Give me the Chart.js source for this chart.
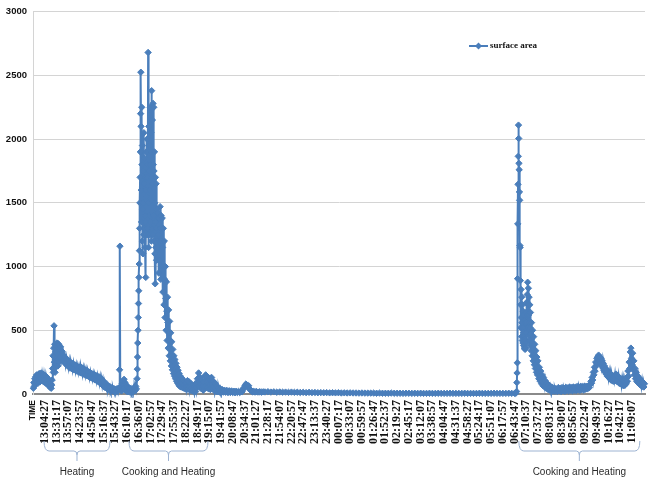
<!DOCTYPE html>
<html>
<head>
<meta charset="utf-8">
<script src="https://cdn.jsdelivr.net/npm/chart.js@4/dist/chart.umd.min.js"></script>
<style>
  html, body { margin: 0; padding: 0; background: #fff; }
  #wrap { width: 654px; height: 484px; }
</style>
</head>
<body>
<div id="wrap"><canvas id="chart" width="654" height="484"></canvas></div>
<script>
// category labels on the time axis (one every tick slot)
const tickLabels = [
  "TIME", "13:04:27", "13:31:17", "13:57:07", "14:23:57", "14:50:47", "15:16:37",
  "15:43:27", "16:10:17", "16:36:07", "17:02:57", "17:29:47", "17:55:37", "18:22:27",
  "18:49:17", "19:15:07", "19:41:57", "20:08:47", "20:34:37", "21:01:27", "21:28:17",
  "21:54:07", "22:20:57", "22:47:47", "23:13:37", "23:40:27", "00:07:17", "00:33:07",
  "00:59:57", "01:26:47", "01:52:37", "02:19:27", "02:45:17", "03:12:07", "03:38:57",
  "04:04:47", "04:31:37", "04:58:27", "05:24:17", "05:51:07", "06:17:57", "06:43:47",
  "07:10:37", "07:37:27", "08:03:17", "08:30:07", "08:56:57", "09:22:47", "09:49:37",
  "10:16:27", "10:42:17", "11:09:07"
];

// surface area readings, [slot position, value]
const morningHeating = [
  [0.03,45],[0.07,90],[0.11,60],[0.15,120],[0.19,75],[0.23,135],[0.27,90],[0.31,150],
  [0.35,100],[0.39,140],[0.43,85],[0.47,155],[0.51,110],[0.55,160],[0.59,95],[0.63,150],
  [0.67,120],[0.71,165],[0.75,105],[0.79,150],[0.83,125],[0.87,155],[0.91,95],[0.95,140],
  [0.99,110],[1.03,145],[1.07,85],[1.11,135],[1.15,100],[1.19,130],[1.23,75],[1.27,120],
  [1.31,90],[1.35,110],[1.39,60],[1.43,95],[1.47,50],[1.51,80],[1.55,45],[1.59,70],
  [1.63,110],[1.67,200],[1.7,300],[1.73,170],[1.76,360],[1.79,535],[1.82,250],[1.85,390],
  [1.88,170],[1.91,330],[1.94,210],[1.97,380],[2.0,240],[2.03,400],[2.06,260],[2.09,370],
  [2.12,220],[2.15,395],[2.18,270],[2.21,385],[2.24,250],[2.27,360],[2.3,290],[2.34,370],
  [2.38,270],[2.42,340],[2.46,280],[2.5,330],[2.55,260],[2.6,305],
  [2.66,250],[2.72,290],[2.78,235],[2.84,275],[2.9,225],[2.96,265],[3.02,215],[3.08,255],
  [3.14,205],[3.2,250],[3.26,200],[3.32,240],[3.38,195],[3.44,235],[3.5,190],[3.56,228],
  [3.62,185],[3.68,222],[3.74,180],[3.8,215],[3.86,175],[3.92,210],[3.98,170],[4.04,215],
  [4.1,165],[4.16,205],[4.22,160],[4.28,198],[4.34,155],[4.4,192],[4.46,150],[4.52,185],
  [4.58,145],[4.64,180],[4.7,140],[4.76,172],[4.82,132],[4.88,168],[4.94,128],[5.0,160],
  [5.06,122],[5.12,155],[5.18,118],[5.24,150],[5.3,110],[5.36,145],[5.42,105],[5.48,140],
  [5.54,98],[5.6,135],[5.66,90],[5.72,128],[5.78,80],[5.84,118],[5.9,70],[5.96,105],
  [6.02,60],[6.08,92],[6.14,50],[6.2,80],[6.26,45],[6.32,70],[6.38,38],[6.44,62],
  [6.5,32],[6.56,55],[6.62,28],[6.68,48],[6.74,25],[6.8,45],[6.86,22],[6.92,40],
  [6.98,20],[7.04,38],[7.1,22],[7.16,42],[7.22,25],[7.28,40]
];

const afternoonSpike = [
  [7.33,45],[7.37,190],[7.4,1160],[7.43,55],[7.47,30],[7.51,65],[7.55,25],[7.59,80],
  [7.63,35],[7.67,100],[7.71,40],[7.75,115],[7.79,50],[7.83,90],[7.87,30],[7.91,75],
  [7.95,25],[7.99,60],[8.03,20],[8.07,55],[8.11,20],[8.15,50],[8.2,18],[8.25,45],
  [8.3,20],[8.35,40],[8.4,18],[8.45,38],[8.5,20],[8.55,45],[8.6,22],[8.65,50],
  [8.7,28],[8.75,60],[8.8,40]
];

const eveningCooking = [
  [8.86,120],[8.88,195],[8.9,290],[8.92,400],[8.94,500],[8.96,600],[8.98,710],[9.0,810],
  [9.02,915],[9.04,1020],[9.06,1125],[9.08,1300],[9.1,1500],[9.12,1700],[9.14,1900],[9.16,2200],
  [9.18,2525],[9.2,2100],[9.22,1600],[9.24,1350],[9.26,2250],[9.28,1800],[9.3,1200],[9.32,1950],
  [9.34,1450],[9.36,1100],[9.38,1750],[9.4,1500],[9.42,1250],[9.44,2050],[9.46,1650],[9.48,1300],
  [9.5,1850],[9.52,1400],[9.54,1150],[9.56,1700],[9.58,1350],[9.6,915],[9.62,1600],[9.64,1900],
  [9.66,1250],[9.68,1550],[9.7,2000],[9.72,1700],[9.74,1300],[9.76,1800],[9.78,1250],[9.8,2680],
  [9.82,1500],[9.84,1150],[9.86,2100],[9.88,1750],[9.9,1400],[9.92,1950],[9.94,1600],[9.96,1250],
  [9.98,2250],[10.0,1800],[10.02,1350],[10.04,2050],[10.06,1700],[10.08,1200],[10.1,2380],[10.12,1900],
  [10.14,1300],[10.16,2150],[10.18,1650],[10.2,1250],[10.22,2280],[10.24,1800],[10.26,1400],[10.28,2250],
  [10.3,1750],[10.32,1200],[10.34,1900],[10.36,1500],[10.38,1100],[10.4,865],[10.42,1700],[10.44,1350],
  [10.46,1150],[10.48,1650],[10.5,1300],[10.52,1050],[10.55,1450],[10.58,1200],[10.61,1150],[10.64,1420],
  [10.67,1250],[10.7,950],[10.73,1380],[10.76,1200],[10.79,1050],[10.82,1470],[10.85,1300],[10.88,900],
  [10.91,1400],[10.94,1200],[10.97,1000],[11.0,1380],[11.03,1150],[11.06,800],[11.09,1300],[11.12,1000],
  [11.15,700],[11.18,1200],[11.21,900],[11.24,600],[11.27,1000],[11.3,750],[11.33,500],[11.36,880],
  [11.39,650],[11.42,420],[11.45,760],[11.48,560],[11.51,360],[11.54,660],[11.57,480],[11.6,300],
  [11.63,570],[11.66,420],[11.69,260],[11.72,480],[11.75,350],[11.78,220],[11.81,410],[11.84,300],
  [11.87,190],[11.9,350],[11.93,260],[11.96,160],[11.99,300],[12.02,220],[12.05,140],[12.08,270],
  [12.11,190],[12.14,120],[12.17,240],[12.2,170],[12.23,100],[12.26,210],[12.29,150],[12.32,85],
  [12.35,185],[12.38,130],[12.41,70],[12.44,160],[12.47,110],[12.5,60],[12.54,140],[12.58,95],
  [12.62,55],[12.66,125],[12.7,80],[12.74,50],[12.78,110],[12.82,70],[12.86,45],[12.9,100],
  [12.94,60],[12.98,40],[13.02,90],[13.06,55],[13.1,35],
  [13.15,105],[13.2,60],[13.25,40],[13.3,95],[13.35,55],[13.4,30],[13.45,80],[13.5,45],
  [13.55,25],[13.6,70],[13.65,40],[13.7,20],[13.75,60],[13.8,35],[13.85,20],[13.9,55],
  [13.95,90],[14.0,120],[14.05,60],[14.1,165],[14.15,100],[14.2,55],[14.25,130],[14.3,80],
  [14.35,40],[14.4,110],[14.45,60],[14.5,30],[14.55,95],[14.6,55],[14.65,140],[14.7,150],
  [14.75,90],[14.8,50],[14.85,135],[14.9,80],[14.95,40],[15.0,120],[15.05,70],[15.1,35],
  [15.15,125],[15.2,130],[15.25,75],[15.3,40],[15.35,100],[15.4,55],[15.45,25],[15.5,85],
  [15.55,45],[15.6,20],[15.65,65],[15.7,35],[15.75,18],[15.8,50],[15.85,28],[15.9,15],
  [15.95,40],[16.0,20],[16.1,35],[16.2,15],[16.3,30],[16.4,14],[16.5,28],[16.6,12],
  [16.7,25],[16.8,12],[16.9,24],[17.0,12],[17.1,22],[17.2,10],[17.3,22],[17.4,12],
  [17.5,20],[17.6,12],[17.7,22],[17.8,18],[17.88,35],[17.96,50],[18.04,65],[18.12,78],
  [18.2,70],[18.28,55],[18.36,65],[18.44,40],[18.52,30],[18.6,22],[18.7,18],[18.8,20],
  [18.9,15],[19.0,20],[19.15,15],[19.3,18],[19.45,14],[19.6,17]
];

const overnight = [
  [19.75,16],[20,18],[20.25,15],[20.5,17],[20.75,14],[21,16],[21.25,14],[21.5,15],
  [21.75,13],[22,15],[22.25,13],[22.5,14],[22.75,12],[23,13],[23.25,11],[23.5,13],
  [23.75,11],[24,12],[24.25,10],[24.5,11],[24.75,10],[25,11],[25.25,9],[25.5,10],
  [25.75,9],[26,10],[26.25,8],[26.5,9],[26.75,8],[27,9],[27.25,8],[27.5,8],
  [27.75,7],[28,8],[28.25,7],[28.5,7],[28.75,7],[29,7],[29.25,6],[29.5,7],
  [29.75,6],[30,6],[30.25,6],[30.5,7],[30.75,6],[31,6],[31.25,6],[31.5,5],
  [31.75,6],[32,6],[32.25,5],[32.5,6],[32.75,5],[33,6],[33.25,5],[33.5,5],
  [33.75,6],[34,5],[34.25,5],[34.5,6],[34.75,5],[35,5],[35.25,5],[35.5,6],
  [35.75,5],[36,5],[36.25,5],[36.5,5],[36.75,6],[37,5],[37.25,5],[37.5,5],
  [37.75,5],[38,6],[38.25,5],[38.5,5],[38.75,5],[39,5],[39.25,6],[39.5,5],
  [39.75,5],[40,5],[40.25,5],[40.5,6],[40.75,5],[41,5],[41.1,6]
];

const morningCooking = [
  [41.17,20],[41.19,90],[41.21,165],[41.23,245],[41.25,905],[41.27,1335],[41.29,1645],[41.31,1865],
  [41.33,2110],[41.35,2005],[41.37,1810],[41.39,1760],[41.41,1585],[41.43,1520],[41.45,1165],[41.47,1150],
  [41.49,890],[41.51,700],[41.53,520],[41.55,820],[41.57,600],[41.59,450],[41.61,760],[41.63,560],
  [41.65,420],[41.67,700],[41.69,520],[41.71,400],[41.73,650],[41.75,480],[41.77,380],[41.79,620],
  [41.81,450],[41.83,360],[41.85,580],[41.87,430],[41.89,350],[41.91,560],[41.93,420],[41.95,360],
  [41.97,640],[41.99,480],[42.01,400],[42.03,720],[42.05,560],[42.07,780],[42.09,620],[42.11,877],
  [42.13,700],[42.15,520],[42.17,830],[42.19,620],[42.21,460],[42.23,760],[42.25,560],[42.27,420],
  [42.29,700],[42.31,520],[42.33,380],[42.35,640],[42.38,470],[42.41,340],[42.44,560],[42.47,400],
  [42.5,300],[42.53,500],[42.56,360],[42.59,260],[42.62,450],[42.65,320],[42.68,230],[42.71,390],
  [42.74,280],[42.77,200],[42.8,340],[42.83,240],[42.86,170],[42.89,290],[42.92,210],[42.95,150],
  [42.98,260],[43.02,180],[43.06,120],[43.1,210],[43.14,150],[43.18,100],[43.22,180],[43.26,120],
  [43.3,80],[43.34,150],[43.38,100],[43.42,65],[43.46,130],[43.5,85],[43.55,55],[43.6,105],
  [43.65,70],[43.7,45],[43.75,85],[43.8,55],[43.85,35],[43.9,70],[43.95,45],[44.0,30],
  [44.06,60],[44.12,35],[44.18,25],[44.24,50],[44.3,30],[44.36,22],[44.42,45],[44.48,25],
  [44.56,40],[44.64,20],[44.72,50],[44.8,25],[44.88,45],[44.96,20],[45.04,50],[45.12,25],
  [45.2,45],[45.28,22],[45.36,52],[45.44,28],[45.52,48],[45.6,25],[45.68,55],[45.76,30],
  [45.84,50],[45.92,25],[46.0,55],[46.08,30],[46.16,52],[46.24,28],[46.32,58],[46.4,32],
  [46.48,55],[46.56,30],[46.64,60],[46.72,35],[46.8,58],[46.88,32],[46.96,62],[47.04,38],
  [47.12,60],[47.2,40],[47.28,65],[47.36,50],[47.44,75],
  [47.5,100],[47.55,85],[47.6,130],[47.65,110],[47.7,170],[47.75,150],[47.8,210],[47.85,180],
  [47.9,250],[47.95,220],[48.0,280],[48.05,240],[48.1,295],[48.15,305],[48.2,260],[48.25,290],
  [48.3,240],[48.35,280],[48.4,225],[48.45,260],[48.5,205],[48.55,240],[48.6,185],[48.65,220],
  [48.7,170],[48.75,200],[48.8,155],[48.85,190],[48.9,140],[48.95,175],[49.0,130],[49.05,165],
  [49.1,120],[49.15,160],[49.2,110],[49.25,150],[49.3,105],[49.35,145],[49.4,100],[49.45,140],
  [49.5,110],[49.55,150],[49.6,105],[49.65,155],[49.7,100],[49.75,145],[49.8,95],[49.85,135],
  [49.9,85],[49.95,125],[50.0,80],[50.05,120],[50.1,75],[50.15,115],[50.2,70],[50.25,110],
  [50.3,65],[50.35,105],[50.4,70],[50.45,115],[50.5,80],[50.55,130],[50.6,100],[50.65,180],
  [50.7,140],[50.75,250],[50.8,200],[50.85,330],[50.9,360],[50.95,280],[51.0,230],[51.05,320],
  [51.1,190],[51.15,260],[51.2,150],[51.25,200],[51.3,120],[51.35,170],[51.4,100],[51.45,145],
  [51.5,90],[51.55,130],[51.6,80],[51.65,120],[51.7,70],[51.75,110],[51.8,65],[51.85,100],
  [51.9,60],[51.95,90],[52.0,55],[52.05,80]
];

// phases marked with braces under the axis (slot positions)
const phaseStart = [0.94, 8.17, 41.36];
const phaseEnd = [6.55, 14.9, 51.66];
const phaseLabels = ["Heating", "Cooking and Heating", "Cooking and Heating"];

const BLUE = "#4a7ebb";

const points = [...morningHeating, ...afternoonSpike, ...eveningCooking, ...overnight, ...morningCooking]
  .map(([x, y]) => ({ x, y }));

// Klammern + Beschriftung unter der Achse, Legende oben rechts
const annotations = {
  id: "annotations",
  afterDraw(chart) {
    const ctx = chart.ctx;
    const xs = chart.scales.x;
    const base = chart.chartArea.bottom;
    const yTop = base + 47, yMid = base + 57, yBot = base + 67;

    ctx.save();
    ctx.strokeStyle = "#9db3d2";
    ctx.lineWidth = 1;
    phaseLabels.forEach((label, i) => {
      const x0 = xs.getPixelForValue(phaseStart[i]);
      const x1 = xs.getPixelForValue(phaseEnd[i]);
      const xc = (x0 + x1) / 2;
      ctx.beginPath();
      ctx.moveTo(x0, yTop);
      ctx.quadraticCurveTo(x0, yMid, x0 + 5, yMid);
      ctx.lineTo(xc - 3, yMid);
      ctx.quadraticCurveTo(xc, yMid, xc, yMid + 4);
      ctx.lineTo(xc, yBot);
      ctx.moveTo(x1, yTop);
      ctx.quadraticCurveTo(x1, yMid, x1 - 5, yMid);
      ctx.lineTo(xc + 3, yMid);
      ctx.quadraticCurveTo(xc, yMid, xc, yMid + 4);
      ctx.stroke();

      ctx.fillStyle = "#2b2b2b";
      ctx.font = "10px 'Liberation Sans', Arial, sans-serif";
      ctx.textAlign = "center";
      ctx.textBaseline = "middle";
      ctx.fillText(label, xc, base + 78);
    });

    // Legende
    const ly = 46;
    ctx.strokeStyle = BLUE;
    ctx.lineWidth = 2;
    ctx.beginPath();
    ctx.moveTo(469, ly);
    ctx.lineTo(488, ly);
    ctx.stroke();
    ctx.fillStyle = BLUE;
    ctx.beginPath();
    ctx.moveTo(478.5, ly - 3.5);
    ctx.lineTo(482, ly);
    ctx.lineTo(478.5, ly + 3.5);
    ctx.lineTo(475, ly);
    ctx.closePath();
    ctx.fill();
    ctx.fillStyle = "#111";
    ctx.font = "bold 9px 'Liberation Serif', 'Times New Roman', serif";
    ctx.textAlign = "left";
    ctx.textBaseline = "middle";
    ctx.fillText("surface area", 490, ly);
    ctx.restore();
  }
};

new Chart(document.getElementById("chart"), {
  type: "line",
  data: {
    datasets: [{
      label: "surface area",
      data: points,
      borderColor: BLUE,
      backgroundColor: BLUE,
      borderWidth: 2,
      pointStyle: "rectRot",
      pointRadius: 3.2,
      pointBorderWidth: 1,
      pointBackgroundColor: BLUE,
      pointBorderColor: BLUE,
      tension: 0,
      clip: 4
    }]
  },
  options: {
    responsive: false,
    animation: false,
    events: [],
    layout: { padding: { top: 9, right: 9, left: 0, bottom: 0 } },
    plugins: {
      legend: { display: false },
      tooltip: { enabled: false }
    },
    scales: {
      x: {
        type: "linear",
        min: 0,
        max: 52.1,
        afterFit: (scale) => { scale.height = 90; },
        afterBuildTicks: (scale) => {
          scale.ticks = tickLabels.map((_, i) => ({ value: i }));
        },
        grid: { display: false, drawTicks: false },
        border: { display: true, color: "#8a8a8a", width: 2 },
        ticks: {
          autoSkip: false,
          maxRotation: 90,
          minRotation: 90,
          padding: 6,
          color: "#111",
          font: (c) => c.index === 0
            ? { family: "'Liberation Sans', Arial, sans-serif", size: 8.5, weight: "bold" }
            : { family: "'Liberation Serif', 'Times New Roman', serif", size: 12, weight: "bold" },
          callback: (v) => tickLabels[Math.round(v)]
        }
      },
      y: {
        min: 0,
        max: 3000,
        afterFit: (scale) => { scale.width = 33; },
        grid: { color: "#d4d4d4", lineWidth: 1, drawTicks: false },
        border: { display: true, color: "#d4d4d4", width: 1 },
        ticks: {
          stepSize: 500,
          padding: 6,
          color: "#111",
          font: { family: "'Liberation Sans', Arial, sans-serif", size: 9.5, weight: "bold" },
          callback: (v) => String(v)
        }
      }
    }
  },
  plugins: [annotations]
});
</script>
</body>
</html>
